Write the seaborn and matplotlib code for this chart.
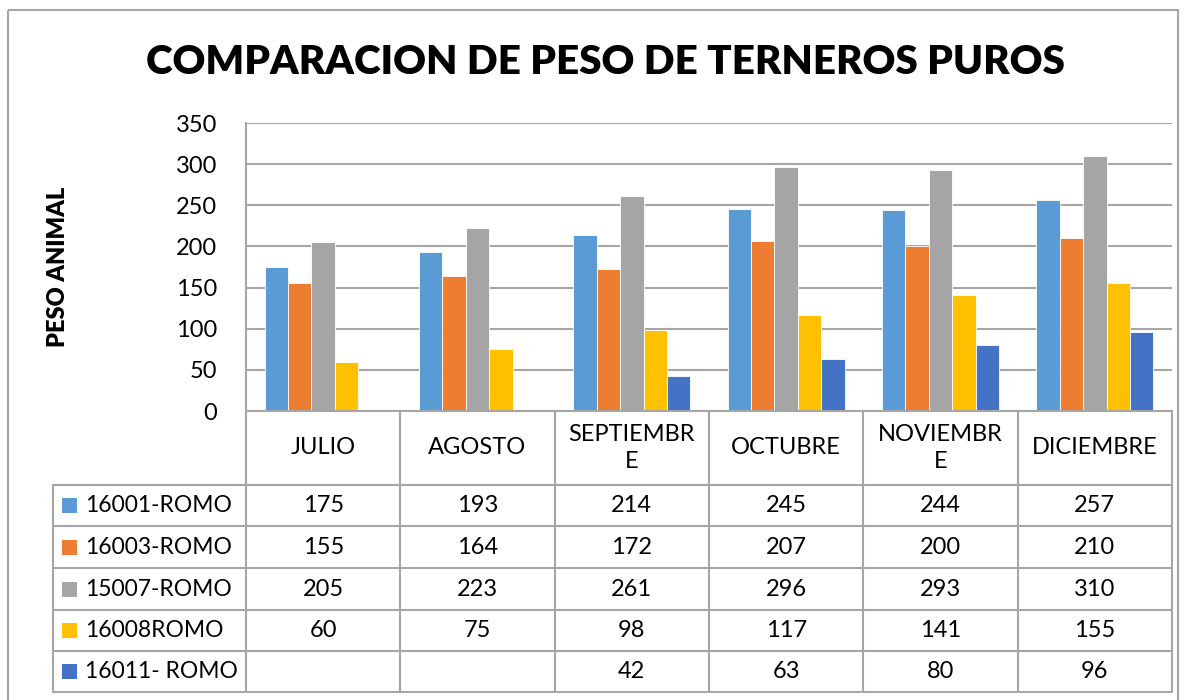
import numpy as np
import pandas as pd
import matplotlib
matplotlib.use('Agg')
import matplotlib.pyplot as plt
import seaborn as sns
from matplotlib.patches import Rectangle

# Datos del grafico
meses = ['JULIO', 'AGOSTO', 'SEPTIEMBRE', 'OCTUBRE', 'NOVIEMBRE', 'DICIEMBRE']
meses_tabla = ['JULIO', 'AGOSTO', 'SEPTIEMBR\nE', 'OCTUBRE', 'NOVIEMBR\nE', 'DICIEMBRE']
animales = ['16001-ROMO', '16003-ROMO', '15007-ROMO', '16008ROMO', '16011- ROMO']
peso_16001 = [175, 193, 214, 245, 244, 257]
peso_16003 = [155, 164, 172, 207, 200, 210]
peso_15007 = [205, 223, 261, 296, 293, 310]
peso_16008 = [60, 75, 98, 117, 141, 155]
peso_16011 = [np.nan, np.nan, 42, 63, 80, 96]
colores = ['#5B9BD5', '#ED7D31', '#A5A5A5', '#FFC000', '#4472C4']
y_ticks = [0, 50, 100, 150, 200, 250, 300, 350]

series = [peso_16001, peso_16003, peso_15007, peso_16008, peso_16011]
df = pd.DataFrame({
    'Mes': meses * len(animales),
    'Animal': np.repeat(animales, len(meses)),
    'Peso': np.concatenate(series),
})

sns.set_theme(style='white')
plt.rcParams['font.family'] = ['Lato', 'DejaVu Sans']
plt.rcParams['text.color'] = 'black'

W, H = 1187, 700
GRIS = '#A6A6A6'
FS = 17
fig = plt.figure(figsize=(W / 100, H / 100), dpi=100)


def fx(x):
    return x / W


def fy(y):
    return 1 - y / H


# Area de barras
ax = fig.add_axes([fx(246), fy(411), (1172 - 246) / W, (411 - 123) / H])
sns.barplot(data=df, x='Mes', y='Peso', hue='Animal', order=meses,
            hue_order=animales, palette=colores, saturation=1, width=0.76,
            errorbar=None, edgecolor='white', linewidth=0.6, legend=False, ax=ax)
ax.set_xlim(-0.5, len(meses) - 0.5)
ax.set_ylim(0, 350)
ax.set_yticks(y_ticks)
ax.set_xticks([])
ax.set_xlabel('')
ax.set_ylabel('')
ax.yaxis.grid(True, color=GRIS, linewidth=1.5)
ax.set_axisbelow(True)
for side in ['top', 'right']:
    ax.spines[side].set_visible(False)
for side in ['left', 'bottom']:
    ax.spines[side].set_color(GRIS)
    ax.spines[side].set_linewidth(1.5)
ax.tick_params(axis='y', length=0, pad=21, labelsize=FS, labelcolor='black')

# Capa de texto, tabla y borde en pixeles
tax = fig.add_axes([0, 0, 1, 1])
tax.set_xlim(0, W)
tax.set_ylim(H, 0)
tax.axis('off')
tax.patch.set_alpha(0)

tax.add_patch(Rectangle((8, 10), 1170, 700, fill=False, edgecolor=GRIS, linewidth=1.5))

titulo = tax.text(605, 63, 'COMPARACION DE PESO DE TERNEROS PUROS', ha='center',
                  va='center', fontweight='heavy', fontsize=34, color='black')
fig.canvas.draw()
ancho = titulo.get_window_extent().width
titulo.set_fontsize(34 * 920 / ancho)

tax.text(58, 267, 'PESO ANIMAL', rotation=90, ha='center', va='center',
         fontweight='heavy', fontsize=17, color='black')

# Tabla de datos
col_x = np.linspace(246, 1172, len(meses) + 1)
fila_y = [411, 485, 526, 568, 610, 651, 692]
for x in col_x:
    tax.plot([x, x], [411, fila_y[-1]], color=GRIS, linewidth=1.5)
tax.plot([53, 53], [fila_y[1], fila_y[-1]], color=GRIS, linewidth=1.5)
for y in fila_y[1:]:
    tax.plot([53, 1172], [y, y], color=GRIS, linewidth=1.5)

for j, mes in enumerate(meses_tabla):
    cx = (col_x[j] + col_x[j + 1]) / 2
    tax.text(cx, (fila_y[0] + fila_y[1]) / 2, mes, ha='center', va='center',
             fontsize=FS, linespacing=1.4, color='black')

for i, (animal, valores, color) in enumerate(zip(animales, series, colores)):
    cy = (fila_y[i + 1] + fila_y[i + 2]) / 2
    tax.add_patch(Rectangle((62, cy - 7.5), 15, 15, facecolor=color, edgecolor='none'))
    tax.text(85, cy, animal, ha='left', va='center', fontsize=16.5, color='black')
    for j, v in enumerate(valores):
        if np.isnan(v):
            continue
        cx = (col_x[j] + col_x[j + 1]) / 2
        tax.text(cx, cy, f'{int(v)}', ha='center', va='center', fontsize=FS,
                 color='black')

fig.savefig('out.png', dpi=100)
